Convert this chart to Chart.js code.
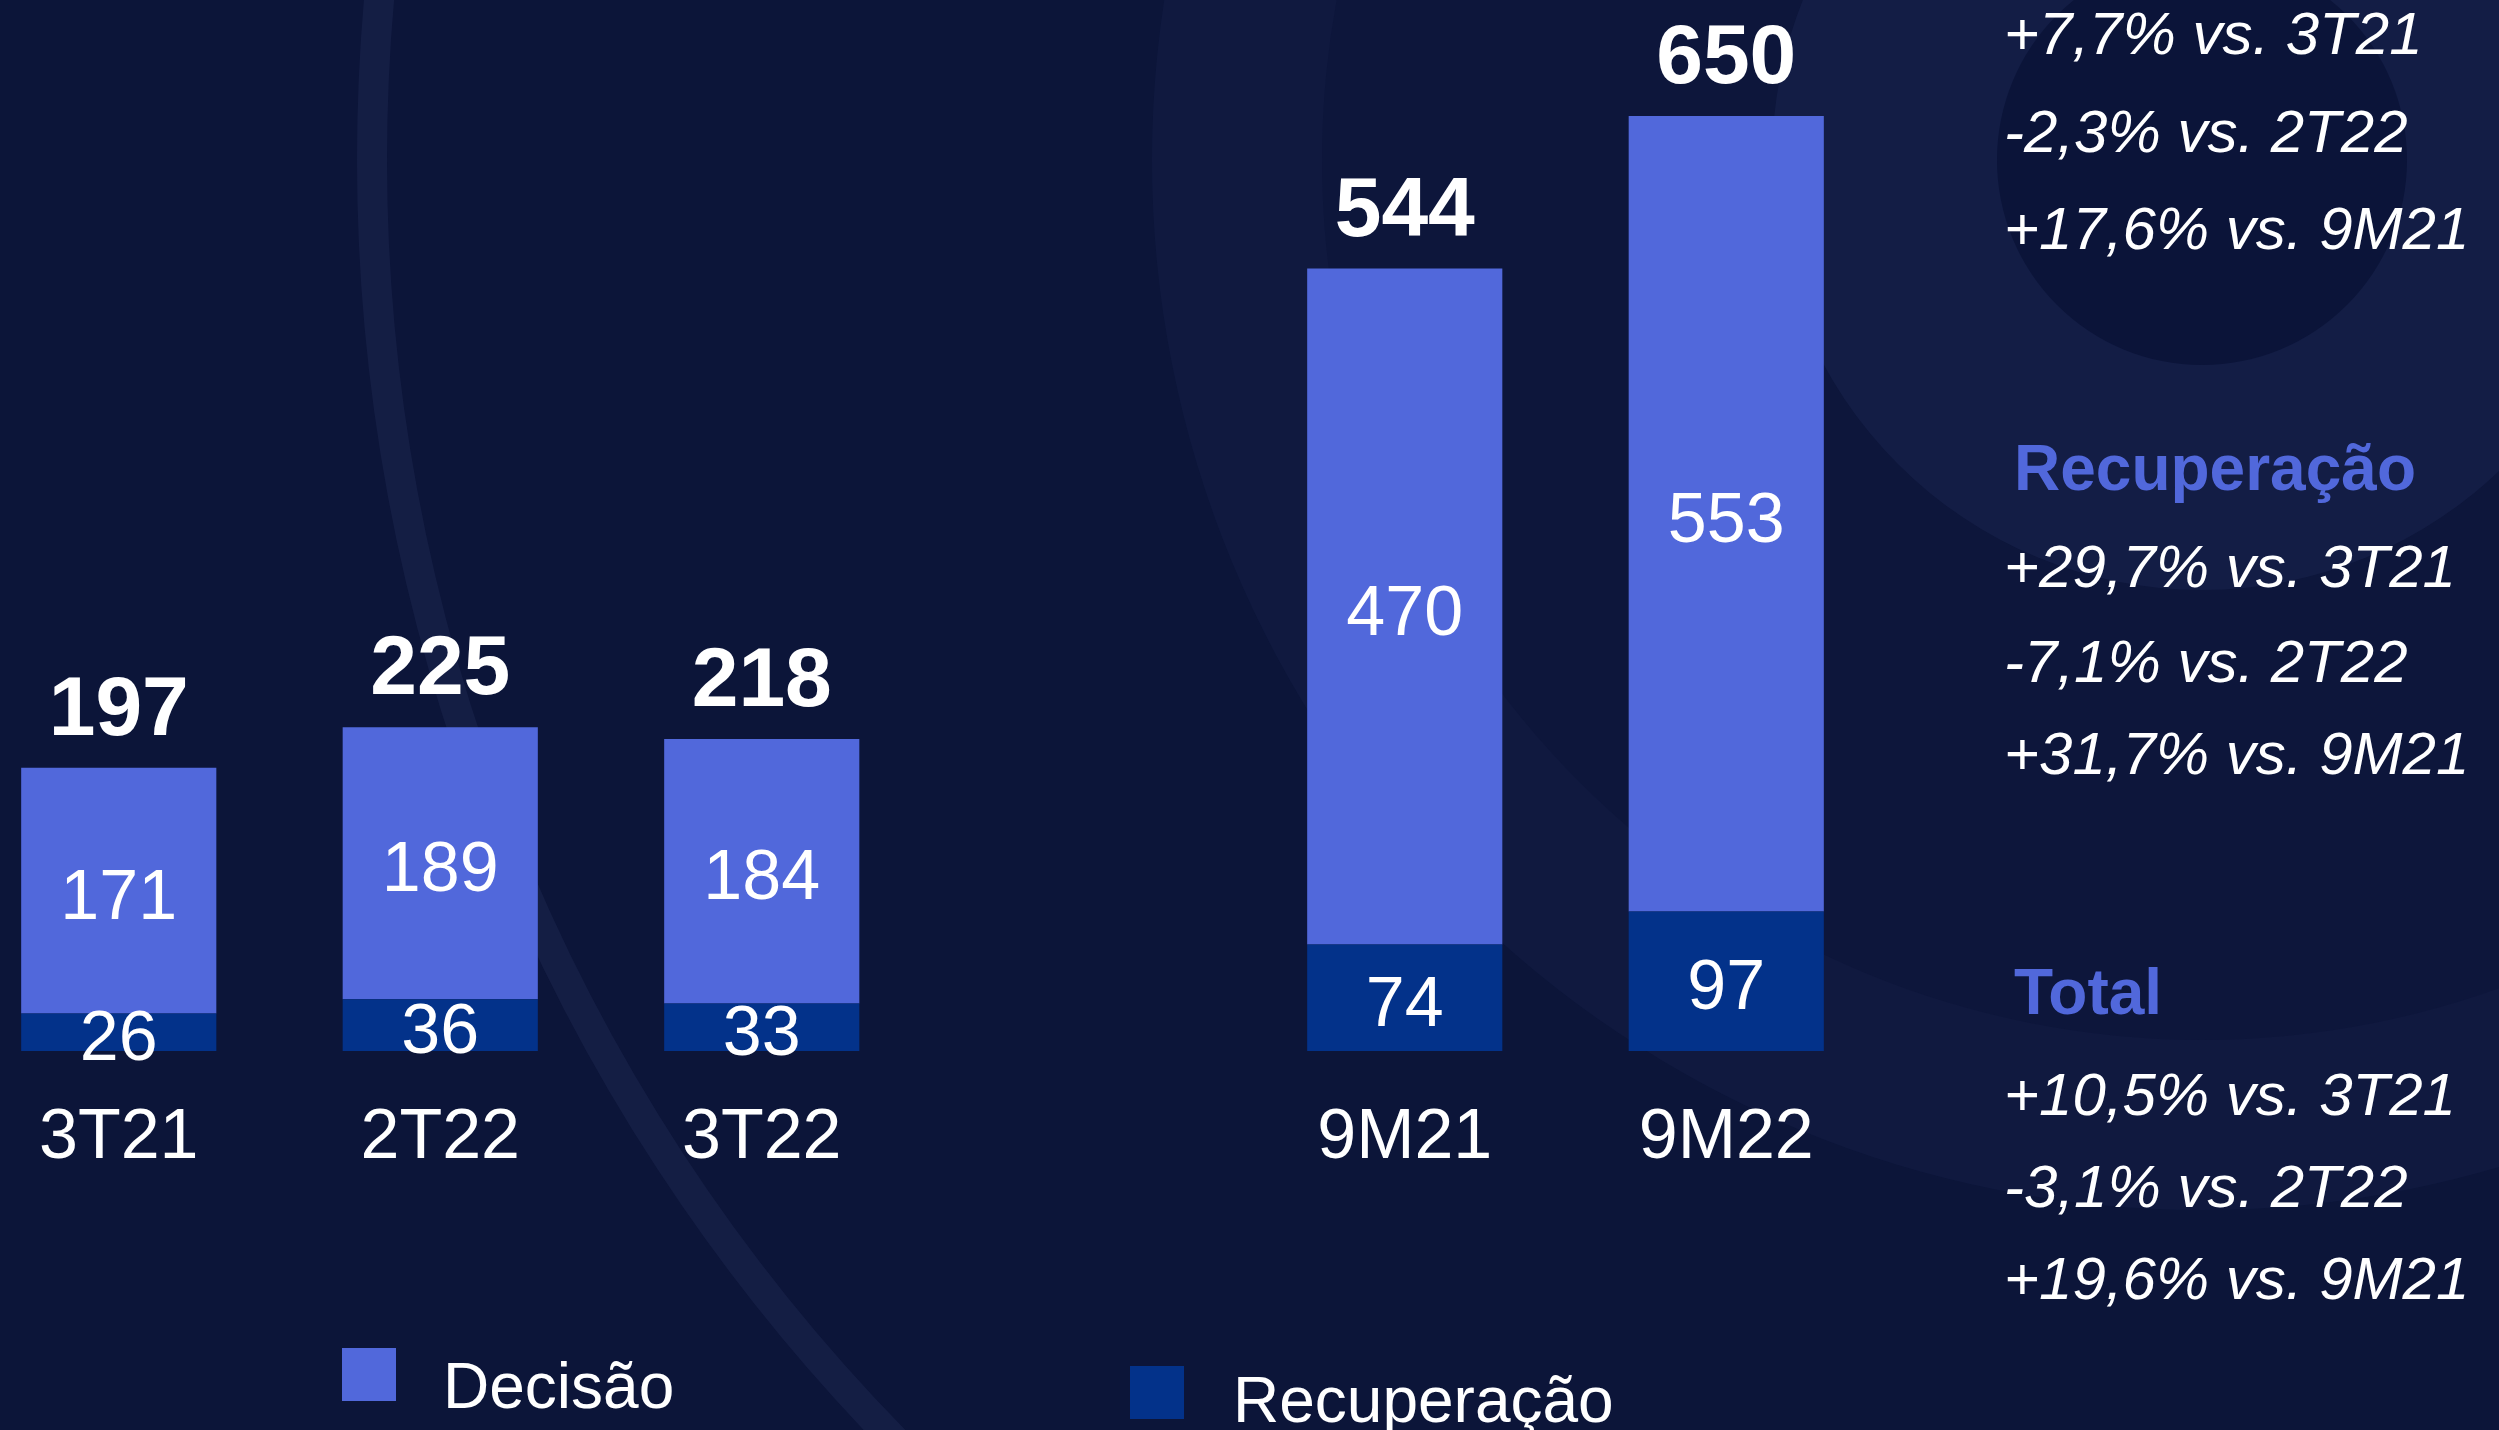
<!DOCTYPE html>
<html>
<head>
<meta charset="utf-8">
<script src="https://cdn.jsdelivr.net/npm/chart.js@4.4.1/dist/chart.umd.min.js"></script>
<style>
  html, body { margin: 0; padding: 0; background: #0c1539; overflow: hidden; }
  body { width: 2499px; height: 1430px; position: relative; }
  #chart { position: absolute; left: -42px; top: 0; }
</style>
</head>
<body>
<canvas id="chart" width="2541" height="1430"></canvas>
<script>
// values in R$ milhões, empty slot separates quarters from 9M
const categories = ['3T21', '2T22', '3T22', '', '9M21', '9M22'];
const recuperacao = [26, 36, 33, null, 74, 97];
const decisao = [171, 189, 184, null, 470, 553];
const totals = [197, 225, 218, null, 544, 650];

const decisaoLines = ['+7,7% vs. 3T21', '-2,3% vs. 2T22', '+17,6% vs. 9M21'];
const recuperacaoLines = ['+29,7% vs. 3T21', '-7,1% vs. 2T22', '+31,7% vs. 9M21'];
const totalLines = ['+10,5% vs. 3T21', '-3,1% vs. 2T22', '+19,6% vs. 9M21'];

const LIGHT = '#5168db';
const DARK = '#03328a';
const FONT = '"Liberation Sans", Arial, sans-serif';
const SHIFT = 42; // canvas starts 42px left of the page

const background = {
    id: 'background',
    beforeDraw(chart) {
        const ctx = chart.ctx;
        const cx = 2202 + SHIFT, cy = 160;
        ctx.save();
        ctx.fillStyle = '#0c1539';
        ctx.fillRect(0, 0, chart.width, chart.height);
        ctx.fillStyle = 'rgba(40, 52, 100, 0.16)';
        ctx.beginPath();
        ctx.arc(cx, cy, 1050, 0, Math.PI * 2);
        ctx.fill();
        ctx.fillStyle = 'rgba(12, 20, 57, 0.6)';
        ctx.beginPath();
        ctx.arc(cx, cy, 880, 0, Math.PI * 2);
        ctx.fill();
        ctx.fillStyle = 'rgba(40, 52, 100, 0.25)';
        ctx.beginPath();
        ctx.arc(cx, cy, 430, 0, Math.PI * 2);
        ctx.fill();
        ctx.fillStyle = '#0b1439';
        ctx.beginPath();
        ctx.arc(cx, cy, 205, 0, Math.PI * 2);
        ctx.fill();
        ctx.strokeStyle = 'rgba(60, 72, 120, 0.18)';
        ctx.lineWidth = 30;
        ctx.beginPath();
        ctx.arc(cx, cy, 1830, 0, Math.PI * 2);
        ctx.stroke();
        ctx.restore();
    }
};

const barLabels = {
    id: 'barLabels',
    afterDatasetsDraw(chart) {
        const ctx = chart.ctx;
        ctx.save();
        ctx.fillStyle = '#ffffff';
        ctx.textAlign = 'center';
        ctx.textBaseline = 'alphabetic';
        chart.data.datasets.forEach((ds, i) => {
            const meta = chart.getDatasetMeta(i);
            meta.data.forEach((bar, j) => {
                const v = ds.data[j];
                if (v == null) return;
                ctx.font = '70px ' + FONT;
                const mid = (bar.y + bar.base) / 2 + 3;
                ctx.fillText(String(v), bar.x, mid + 0.358 * 70);
            });
        });
        const top = chart.getDatasetMeta(chart.data.datasets.length - 1);
        ctx.font = 'bold 84px ' + FONT;
        top.data.forEach((bar, j) => {
            if (totals[j] == null) return;
            ctx.fillText(String(totals[j]), bar.x, bar.y - 33);
        });
        ctx.restore();
    }
};

const sidePanel = {
    id: 'sidePanel',
    afterDraw(chart) {
        const ctx = chart.ctx;
        ctx.save();
        ctx.textAlign = 'left';
        ctx.textBaseline = 'alphabetic';
        const sections = [
            { title: null, lines: decisaoLines, base: [54, 152, 249] },
            { title: 'Recuperação', titleBase: 490, lines: recuperacaoLines, base: [587, 682, 774] },
            { title: 'Total', titleBase: 1014, lines: totalLines, base: [1115, 1207, 1299] }
        ];
        sections.forEach(s => {
            if (s.title) {
                ctx.fillStyle = LIGHT;
                ctx.font = 'bold 64px ' + FONT;
                ctx.fillText(s.title, 2014 + SHIFT, s.titleBase);
            }
            ctx.fillStyle = '#ffffff';
            ctx.font = 'italic 60px ' + FONT;
            s.lines.forEach((t, k) => ctx.fillText(t, 2004 + SHIFT, s.base[k]));
        });

        // legend
        const items = [
            { ds: 1, box: [342, 1348], text: [443, 1408] },
            { ds: 0, box: [1130, 1366], text: [1233, 1422] }
        ];
        ctx.font = '64px ' + FONT;
        items.forEach(it => {
            const ds = chart.data.datasets[it.ds];
            ctx.fillStyle = ds.backgroundColor;
            ctx.fillRect(it.box[0] + SHIFT, it.box[1], 54, 53);
            ctx.fillStyle = '#ffffff';
            ctx.fillText(ds.label, it.text[0] + SHIFT, it.text[1]);
        });
        ctx.restore();
    }
};

new Chart(document.getElementById('chart'), {
    type: 'bar',
    data: {
        labels: categories,
        datasets: [
            { label: 'Recuperação', data: recuperacao, backgroundColor: DARK },
            { label: 'Decisão', data: decisao, backgroundColor: LIGHT }
        ]
    },
    options: {
        responsive: false,
        animation: false,
        devicePixelRatio: 1,
        layout: { padding: { left: 0, right: 612, top: 1, bottom: 203 } },
        datasets: { bar: { categoryPercentage: 0.607, barPercentage: 1 } },
        plugins: { legend: { display: false }, tooltip: { enabled: false } },
        scales: {
            x: {
                stacked: true,
                grid: { display: false, drawTicks: false },
                border: { display: false },
                ticks: { color: '#ffffff', font: { family: FONT, size: 70 }, padding: 46 }
            },
            y: { stacked: true, display: false, min: 0, max: 730 }
        }
    },
    plugins: [background, barLabels, sidePanel]
});
</script>
</body>
</html>
